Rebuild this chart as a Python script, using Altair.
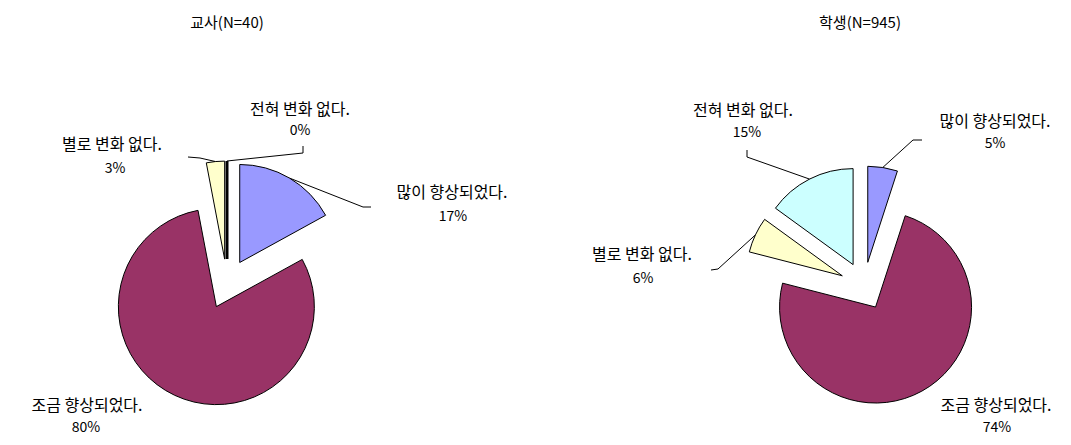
import altair as alt
import pandas as pd

# ---- data ----
categories = ["많이 향상되었다.", "조금 향상되었다.", "별로 변화 없다.", "전혀 변화 없다."]
teacher_values = [17, 80, 3, 0]
student_values = [5, 74, 6, 15]
chart_titles = ["교사(N=40)", "학생(N=945)"]
slice_colors = ["#9999FF", "#993366", "#FFFFCC", "#CCFFFF"]

# ---- layout (page pixel coordinates) ----
OFF = 8
pie_center = {"교사(N=40)": (227, 284), "학생(N=945)": (864, 286)}
pie_radius = {"교사(N=40)": 98, "학생(N=945)": 96}
pie_explode = {"교사(N=40)": 25, "학생(N=945)": 24}
title_pos = {"교사(N=40)": (227, 23), "학생(N=945)": (860, 23)}
# name x, name y, pct x, pct y
label_pos = {
    "교사(N=40)": [(452, 193, 453, 217), (87, 406, 86, 428), (112, 145, 115, 169), (300, 110, 300, 131)],
    "학생(N=945)": [(995, 122, 995, 144), (996, 406, 997, 428), (642, 255, 643, 279), (743, 111, 747, 133)],
}
# elbow x, elbow y, end x, end y  (None = no leader)
leader_pos = {
    "교사(N=40)": [(363, 207, 371, 207), None, (200, 158, 188, 157), (303, 153, 303, 146)],
    "학생(N=945)": [(913, 140, 922, 140), None, (718, 269, 711, 270), (747, 157, 747, 150)],
}

rows = []
for title, vals in zip(chart_titles, [teacher_values, student_values]):
    cx, cy = pie_center[title]
    for i, (cat, v) in enumerate(zip(categories, vals)):
        nx, ny, qx, qy = label_pos[title][i]
        ld = leader_pos[title][i]
        rows.append({
            "chart": title, "category": cat, "value": v, "order": i,
            "cx": cx - OFF, "cy": cy - OFF, "r": pie_radius[title], "d": pie_explode[title],
            "nx": nx - OFF, "ny": ny - OFF, "qx": qx - OFF, "qy": qy - OFF,
            "ex": (ld[0] - OFF) if ld else None, "ey": (ld[1] - OFF) if ld else None,
            "lx": (ld[2] - OFF) if ld else None, "ly": (ld[3] - OFF) if ld else None,
        })
df = pd.DataFrame(rows)

titles_df = pd.DataFrame({
    "title": chart_titles,
    "tx": [title_pos[t][0] - OFF for t in chart_titles],
    "ty": [title_pos[t][1] - OFF for t in chart_titles],
})

FONT = "Noto Sans CJK KR"

base = (
    alt.Chart(df)
    .transform_joinaggregate(total="sum(value)", groupby=["chart"])
    .transform_window(cum="sum(value)", sort=[alt.SortField("order")], groupby=["chart"], frame=[None, 0])
    .transform_calculate(
        t0="2*PI*(datum.cum - datum.value)/datum.total",
        t1="2*PI*datum.cum/datum.total",
    )
    .transform_calculate(tm="(datum.t0 + datum.t1)/2")
    .transform_calculate(
        px="datum.cx + datum.d*sin(datum.tm)",
        py="datum.cy - datum.d*cos(datum.tm)",
    )
    .transform_calculate(
        sx="datum.px + datum.r*sin(datum.tm)",
        sy="datum.py - datum.r*cos(datum.tm)",
        pct="datum.value + '%'",
    )
)

arcs = base.mark_arc(stroke="black").encode(
    x=alt.X("px:Q", scale=None),
    y=alt.Y("py:Q", scale=None),
    theta=alt.Theta("t0:Q", scale=None, stack=None),
    theta2="t1:Q",
    radius=alt.Radius("r:Q", scale=None),
    color=alt.Color("category:N", scale=alt.Scale(domain=categories, range=slice_colors), legend=None),
    strokeWidth=alt.condition(alt.datum.value == 0, alt.value(3), alt.value(1)),
)

leaders = base.transform_filter("isValid(datum.ex)")
lead1 = leaders.mark_rule(color="black", strokeWidth=1).encode(
    x=alt.X("sx:Q", scale=None), y=alt.Y("sy:Q", scale=None),
    x2="ex:Q", y2="ey:Q",
)
lead2 = leaders.mark_rule(color="black", strokeWidth=1).encode(
    x=alt.X("ex:Q", scale=None), y=alt.Y("ey:Q", scale=None),
    x2="lx:Q", y2="ly:Q",
)

names = base.mark_text(font=FONT, fontSize=16, color="black", align="center", baseline="middle").encode(
    x=alt.X("nx:Q", scale=None), y=alt.Y("ny:Q", scale=None), text="category:N",
)
pcts = base.mark_text(font=FONT, fontSize=14, color="black", align="center", baseline="middle").encode(
    x=alt.X("qx:Q", scale=None), y=alt.Y("qy:Q", scale=None), text="pct:N",
)
titles = alt.Chart(titles_df).mark_text(font=FONT, fontSize=15, color="black", align="center", baseline="middle").encode(
    x=alt.X("tx:Q", scale=None), y=alt.Y("ty:Q", scale=None), text="title:N",
)

chart = (
    alt.layer(arcs, lead1, lead2, names, pcts, titles)
    .properties(width=1055, height=429, padding=0, autosize=alt.AutoSizeParams(type="none"), background="white")
    .configure_view(strokeWidth=0)
)

chart.save("out.html", embed_options={"renderer": "svg", "actions": False})
